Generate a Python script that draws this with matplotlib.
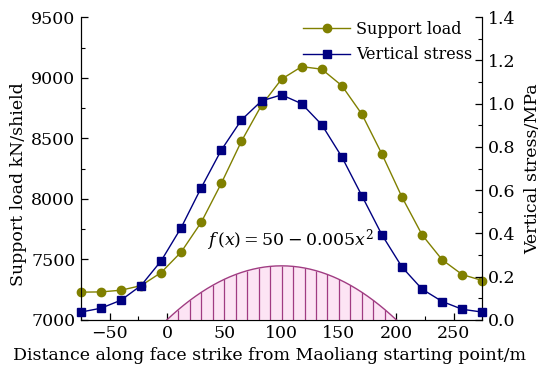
import numpy as np
import matplotlib
matplotlib.use("Agg")
import matplotlib.pyplot as plt
from matplotlib.ticker import MultipleLocator

plt.rcParams['font.family'] = ['DejaVu Serif']
plt.rcParams['mathtext.fontset'] = 'dejavuserif'

# Data
distance = [-75, -57.5, -40, -22.5, -5, 12.5, 30, 47.5, 65, 82.5, 100,
            117.5, 135, 152.5, 170, 187.5, 205, 222.5, 240, 257.5, 275]
support_load = [7229, 7231, 7245, 7283, 7391, 7561, 7807, 8129, 8476, 8773, 8989,
                9092, 9071, 8935, 8699, 8369, 8013, 7702, 7496, 7374, 7325]
vertical_stress = [0.036, 0.054, 0.091, 0.159, 0.273, 0.427, 0.612, 0.786, 0.925, 1.013, 1.041,
                   1.000, 0.903, 0.754, 0.574, 0.393, 0.244, 0.142, 0.085, 0.049, 0.036]

# Parabolic zone f(x) = 50 - 0.005 x^2 (centered at 100, scaled to MPa)
para_x = np.linspace(0, 200, 201)
para_y = (50 - 0.005 * (para_x - 100) ** 2) * 0.005
hatch_x = np.arange(10, 200, 10)
hatch_y = (50 - 0.005 * (hatch_x - 100) ** 2) * 0.005

olive = '#808000'
navy = '#000080'
purple = '#A03C82'

fig = plt.figure(figsize=(5.5, 3.75), dpi=100)
ax = fig.add_axes([0.147, 0.147, 0.730, 0.807])
ax2 = ax.twinx()

# parabola on right axis
ax2.fill_between(para_x, 0, para_y, color='#FCE4F4', lw=0, zorder=1)
ax2.plot(para_x, para_y, color=purple, lw=1.0, zorder=2)
ax2.vlines(hatch_x, 0, hatch_y, color=purple, lw=0.9, zorder=2)

l1, = ax.plot(distance, support_load, color=olive, lw=1.0, marker='o', ms=6,
              mfc=olive, mec=olive, clip_on=False, zorder=3, label='Support load')
l2, = ax2.plot(distance, vertical_stress, color=navy, lw=1.0, marker='s', ms=5.5,
               mfc=navy, mec=navy, clip_on=False, zorder=3, label='Vertical stress')

ax.set_xlim(-75, 275)
ax.set_ylim(7000, 9500)
ax2.set_ylim(0, 1.4)

ax.xaxis.set_major_locator(MultipleLocator(50))
ax.xaxis.set_minor_locator(MultipleLocator(25))
ax.yaxis.set_major_locator(MultipleLocator(500))
ax.yaxis.set_minor_locator(MultipleLocator(250))
ax2.yaxis.set_major_locator(MultipleLocator(0.2))
ax2.yaxis.set_minor_locator(MultipleLocator(0.1))
ax2.yaxis.set_major_formatter(matplotlib.ticker.FormatStrFormatter('%.1f'))

for a in (ax, ax2):
    a.spines['top'].set_visible(False)
    a.tick_params(which='major', direction='in', length=5, width=0.9, labelsize=12.5, pad=4)
    a.tick_params(which='minor', direction='in', length=3, width=0.8)
ax.tick_params(axis='x', which='both', top=False)

ax.set_xlabel('Distance along face strike from Maoliang starting point/m', fontsize=12.5)
ax.xaxis.set_label_coords(0.47, -0.09)
ax.set_ylabel('Support load kN/shield', fontsize=12.5)
ax.yaxis.set_label_coords(-0.135, 0.45)
ax2.set_ylabel('Vertical stress/MPa', fontsize=12.5, labelpad=6)

ax2.text(108, 0.37, r'$f\,(x) = 50 - 0.005x^2$', fontsize=12.5, ha='center', va='center')

leg = ax2.legend(handles=[l1, l2], loc='upper right', bbox_to_anchor=(0.995, 1.015),
                 frameon=False, fontsize=11.5, handlelength=2.9, handletextpad=0.4,
                 labelspacing=0.55, borderaxespad=0.1)

fig.savefig('out.png', dpi=100)
